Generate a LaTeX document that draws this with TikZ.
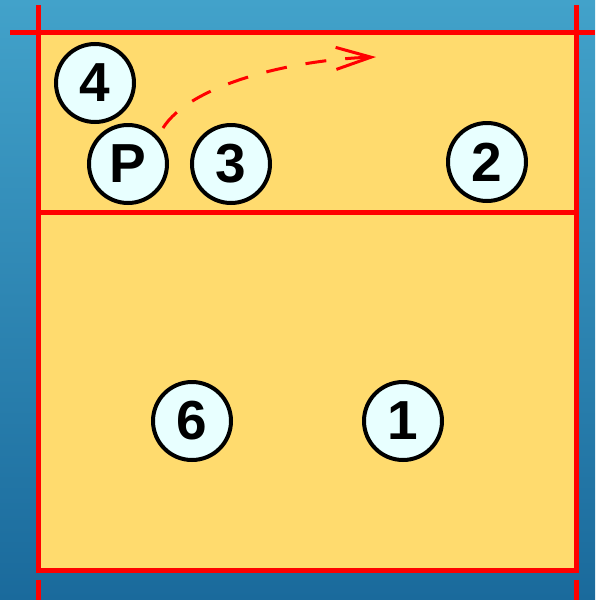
\documentclass[tikz,border=0pt]{standalone}
\usepackage{fontspec}
\setmainfont{Liberation Sans}
\usetikzlibrary{arrows.meta}
\definecolor{bgtop}{HTML}{42A2CA}
\definecolor{bgbot}{HTML}{1A6A9C}
\definecolor{court}{HTML}{FFDB6E}
\definecolor{ball}{HTML}{E8FFFF}
\definecolor{courtred}{HTML}{FF0000}
\tikzset{
  player/.style={circle, draw=black, line width=4pt, fill=ball, minimum size=78pt, inner sep=0pt,
    font=\fontsize{55}{55}\selectfont\bfseries},
  courtline/.style={draw=courtred, line width=5pt},
  move/.style={draw=courtred, line width=3pt, dash pattern=on 21pt off 19pt,
    -{Straight Barb[length=35pt,width=22pt,line width=3pt]}}
}
\begin{document}
\begin{tikzpicture}[x=1pt,y=-1pt]
\useasboundingbox (0,0) rectangle (595,600);
\shade[top color=bgtop, bottom color=bgbot] (0,0) rectangle (595,600);
\fill[court] (38.5,32.5) rectangle (576,570);
% lines
\draw[courtline] (10,32.5) -- (595,32.5);
\draw[courtline] (38.5,5) -- (38.5,572.5);
\draw[courtline] (576,5) -- (576,572.5);
\draw[courtline] (36,570) -- (578.5,570);
\draw[courtline] (38.5,212) -- (576,212);
\draw[courtline] (38.5,580) -- (38.5,600);
\draw[courtline] (576,580) -- (576,600);
% players
\node[player] (p4) at (95,83) {4};
\node[player] (pP) at (128,164) {P};
\node[player] (p3) at (231,164) {3};
\node[player] (p2) at (487,162) {2};
\node[player] (p6) at (192,421) {6};
\node[player] (p1) at (403,421) {1};
% move
\coordinate (ms) at (163,128);
\coordinate (me) at (376,57);
\draw[move] (ms) .. controls (190,85) and (290,60) .. (me);
\end{tikzpicture}
\end{document}
